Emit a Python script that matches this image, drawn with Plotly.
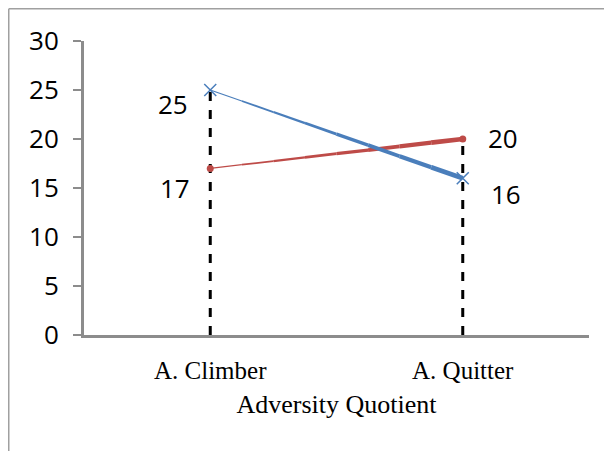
import plotly.graph_objects as go

categories = ["A. Climber", "A. Quitter"]
climber_series = [25, 16]   # blue
quitter_series = [17, 20]   # red
y_ticks = [0, 5, 10, 15, 20, 25, 30]

BLUE = "#4a7ebb"
RED = "#be4b48"

fig = go.Figure()

# dashed drop lines from the top value of each category down to 0
drop_tops = [max(a, b) for a, b in zip(climber_series, quitter_series)]
for cat, top in zip(categories, drop_tops):
    fig.add_trace(go.Scatter(x=[cat, cat], y=[0, top], mode="lines",
                             line=dict(color="black", width=3, dash="dash"),
                             hoverinfo="skip", showlegend=False))

# tapered lines: several stacked segments with increasing width
def tapered(values, color, n=8, w0=1.0, w1=5.0):
    for i in range(n):
        t0, t1 = i / n, (i + 1) / n
        ya = values[0] + (values[1] - values[0]) * t0
        yb = values[0] + (values[1] - values[0]) * t1
        w = w0 + (w1 - w0) * (i + 0.5) / n
        fig.add_trace(go.Scatter(x=[t0, t1], y=[ya, yb], mode="lines",
                                 line=dict(color=color, width=w),
                                 xaxis="x2", hoverinfo="skip", showlegend=False))

tapered(quitter_series, RED)
tapered(climber_series, BLUE)

fig.add_trace(go.Scatter(x=categories, y=quitter_series, mode="markers",
                         marker=dict(symbol="circle", size=7, color=RED),
                         showlegend=False))
fig.add_trace(go.Scatter(x=categories, y=climber_series, mode="markers",
                         marker=dict(symbol="x-thin", size=12,
                                     line=dict(color=BLUE, width=1.5)),
                         showlegend=False))

label_font = dict(family="Open Sans, Noto Sans, sans-serif", size=26, color="black")
label_specs = [
    (categories[0], climber_series[0], -37, -14),
    (categories[0], quitter_series[0], -35, -20),
    (categories[1], quitter_series[1], 40, 1),
    (categories[1], climber_series[1], 43, -16),
]
for cat, val, dx, dy in label_specs:
    fig.add_annotation(x=cat, y=val, text=str(val), showarrow=False,
                       xshift=dx, yshift=dy, font=label_font)

# outer chart border (top and left)
fig.add_shape(type="line", xref="paper", yref="paper",
              x0=-0.149, y0=1.1097, x1=1.2, y1=1.1097,
              line=dict(color="#a0a0a0", width=1.5))
fig.add_shape(type="line", xref="paper", yref="paper",
              x0=-0.149, y0=1.1097, x1=-0.149, y1=-0.6,
              line=dict(color="#a0a0a0", width=1.5))

fig.update_layout(
    width=612, height=451,
    margin=dict(l=76, r=31, t=33, b=124),
    paper_bgcolor="white", plot_bgcolor="white",
    showlegend=False,
    xaxis=dict(type="category", categoryorder="array", categoryarray=categories,
               range=[-0.5, 1.5], showgrid=False, zeroline=False,
               showline=True, linecolor="#8c8c8c", linewidth=3,
               ticks="", ticklabelstandoff=11,
               tickfont=dict(family="Liberation Serif, serif", size=25, color="black"),
               title=dict(text="Adversity Quotient", standoff=12,
                          font=dict(family="Liberation Serif, serif", size=26, color="black"))),
    xaxis2=dict(range=[-0.5, 1.5], overlaying="x", visible=False),
    yaxis=dict(range=[0, 30], tickvals=y_ticks, showgrid=False, zeroline=False,
               showline=True, linecolor="#8c8c8c", linewidth=3,
               ticks="outside", ticklen=8, tickcolor="#8c8c8c", tickwidth=2,
               ticklabelstandoff=9,
               tickfont=dict(family="Open Sans, Noto Sans, sans-serif", size=26, color="black")),
)

fig.write_html("out.html")
